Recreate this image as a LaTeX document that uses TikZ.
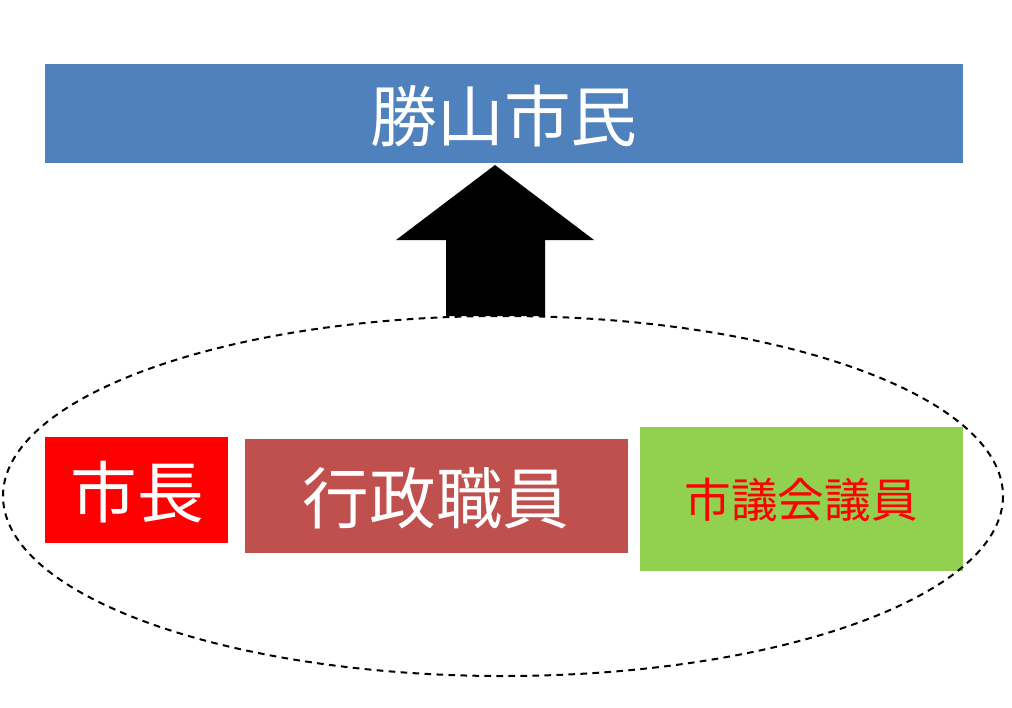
\documentclass[tikz,border=0pt]{standalone}
\usepackage{fontspec}
\newfontfamily\cjk{Noto Sans CJK JP}
\begin{document}
\begin{tikzpicture}[x=0.75pt,y=-0.75pt,
  box/.style={draw=none,inner sep=0pt,font=\cjk},
]
\useasboundingbox (0,0) rectangle (1012,707);
\definecolor{cblue}{HTML}{4F81BD}
\definecolor{cbrown}{HTML}{C0504D}
\definecolor{cgreen}{HTML}{92D050}
\fill[cblue] (45,64) rectangle (963,163);
\node[box,text=white,font=\cjk\fontsize{50}{50}\selectfont] (citizens) at (504,116) {勝山市民};
\fill[black] (446,316) -- (446,240) -- (396,240) -- (495,165) -- (594,240) -- (545,240) -- (545,316) -- cycle;
\fill[red] (45,437) rectangle (228,543);
\node[box,text=white,font=\cjk\fontsize{50}{50}\selectfont] (mayor) at (137,492) {市長};
\fill[cbrown] (245,439) rectangle (628,553);
\node[box,text=white,font=\cjk\fontsize{50}{50}\selectfont] (staff) at (436,498) {行政職員};
\fill[cgreen] (640,427) rectangle (963,571);
\node[box,text=red,font=\cjk\fontsize{35}{35}\selectfont] (council) at (801,500) {市議会議員};
\draw[dashed,line width=1.5pt,dash pattern=on 5pt off 4pt] (503,496) ellipse [x radius=500, y radius=180];
\end{tikzpicture}
\end{document}
